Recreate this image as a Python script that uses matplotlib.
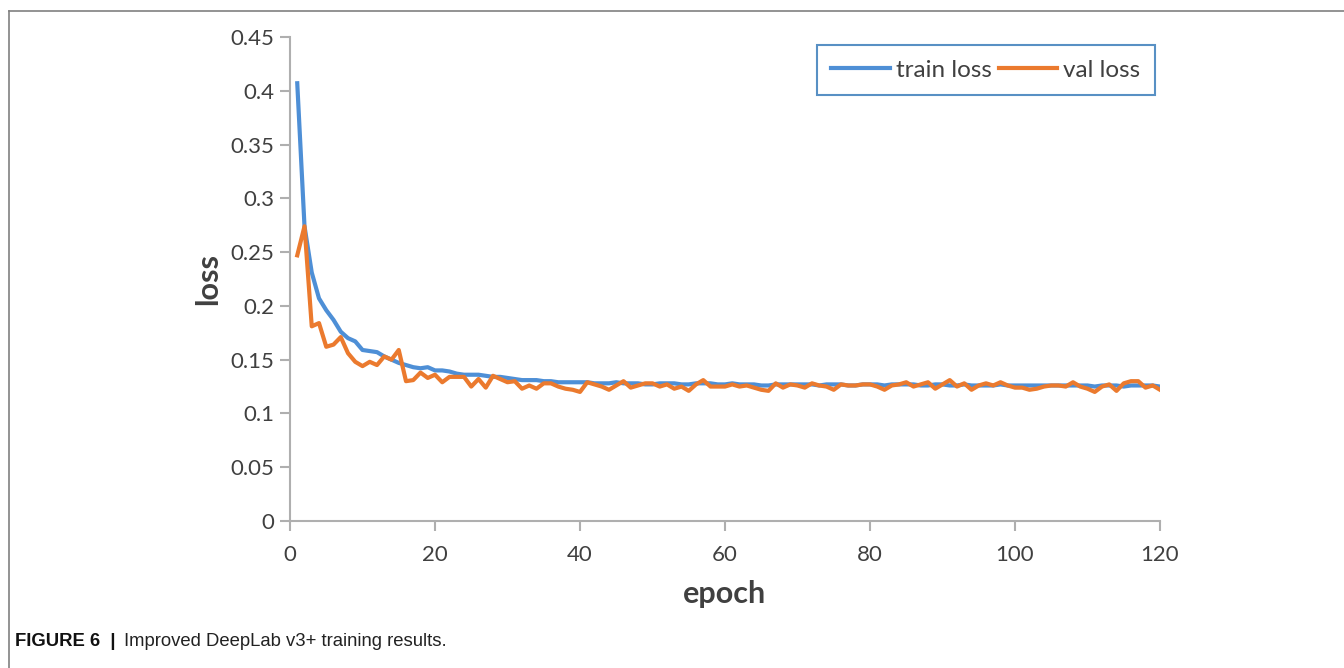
import numpy as np
import matplotlib
matplotlib.use('Agg')
import matplotlib.pyplot as plt
from matplotlib.lines import Line2D

matplotlib.rcParams['font.family'] = ['Lato', 'DejaVu Sans']

# data
train_loss = [
    0.407, 0.274, 0.231, 0.207, 0.196, 0.187, 0.176, 0.170, 0.167, 0.159,
    0.158, 0.157, 0.153, 0.150, 0.147, 0.145, 0.143, 0.142, 0.143, 0.140,
    0.140, 0.139, 0.137, 0.136, 0.136, 0.136, 0.135, 0.134, 0.134, 0.133,
    0.132, 0.131, 0.131, 0.131, 0.130, 0.130, 0.129, 0.129, 0.129, 0.129,
    0.129, 0.128, 0.128, 0.128, 0.129, 0.128, 0.128, 0.128, 0.127, 0.127,
    0.128, 0.128, 0.128, 0.127, 0.127, 0.128, 0.128, 0.128, 0.127, 0.127,
    0.128, 0.127, 0.127, 0.127, 0.126, 0.126, 0.127, 0.127, 0.127, 0.127,
    0.127, 0.127, 0.126, 0.127, 0.127, 0.127, 0.126, 0.126, 0.127, 0.127,
    0.127, 0.126, 0.127, 0.127, 0.127, 0.127, 0.126, 0.126, 0.127, 0.127,
    0.126, 0.126, 0.127, 0.126, 0.126, 0.126, 0.126, 0.127, 0.126, 0.126,
    0.126, 0.126, 0.126, 0.126, 0.126, 0.126, 0.126, 0.126, 0.126, 0.126,
    0.125, 0.126, 0.126, 0.126, 0.125, 0.126, 0.126, 0.126, 0.126, 0.125,
]
val_loss = [
    0.247, 0.274, 0.181, 0.184, 0.162, 0.164, 0.171, 0.156, 0.148, 0.144,
    0.148, 0.145, 0.153, 0.150, 0.159, 0.130, 0.131, 0.138, 0.133, 0.136,
    0.129, 0.134, 0.134, 0.134, 0.125, 0.132, 0.124, 0.135, 0.132, 0.129,
    0.130, 0.123, 0.126, 0.123, 0.128, 0.128, 0.125, 0.123, 0.122, 0.120,
    0.129, 0.127, 0.125, 0.122, 0.126, 0.130, 0.124, 0.126, 0.128, 0.128,
    0.125, 0.127, 0.123, 0.125, 0.121, 0.127, 0.131, 0.125, 0.125, 0.125,
    0.127, 0.125, 0.126, 0.124, 0.122, 0.121, 0.128, 0.124, 0.127, 0.126,
    0.124, 0.128, 0.126, 0.125, 0.122, 0.127, 0.126, 0.126, 0.127, 0.127,
    0.125, 0.122, 0.126, 0.127, 0.129, 0.125, 0.127, 0.129, 0.123, 0.127,
    0.131, 0.125, 0.128, 0.122, 0.126, 0.128, 0.126, 0.129, 0.126, 0.124,
    0.124, 0.122, 0.123, 0.125, 0.126, 0.126, 0.125, 0.129, 0.125, 0.123,
    0.120, 0.125, 0.127, 0.121, 0.128, 0.130, 0.130, 0.124, 0.126, 0.122,
]
epochs = np.arange(1, len(train_loss) + 1)

fig = plt.figure(figsize=(13.44, 6.68), dpi=100)
ax = fig.add_axes([290/1344, 1 - 521/668, 870/1344, 484/668])

ax.plot(epochs, train_loss, color='#4E8FD6', lw=3, label='train loss', zorder=2)
ax.plot(epochs, val_loss, color='#EB7A2E', lw=3, label='val loss', zorder=3)

ax.set_xlim(0, 120)
ax.set_ylim(0, 0.45)
ax.set_xticks(np.arange(0, 121, 20))
ax.set_yticks(np.arange(0, 0.451, 0.05))
ax.set_yticklabels(['0', '0.05', '0.1', '0.15', '0.2', '0.25', '0.3', '0.35', '0.4', '0.45'])

for s in ['top', 'right']:
    ax.spines[s].set_visible(False)
for s in ['left', 'bottom']:
    ax.spines[s].set_color('#AFAFAF')
    ax.spines[s].set_linewidth(1.5)
ax.tick_params(axis='both', colors='#AFAFAF', labelcolor='#404040', labelsize=16,
               length=7, width=1.5)
ax.tick_params(axis='x', pad=10)
ax.tick_params(axis='y', pad=4)

ax.set_xlabel('epoch', fontsize=22, fontweight='bold', color='#404040', labelpad=11)
ax.set_ylabel('loss', fontsize=22, fontweight='bold', color='#404040', labelpad=6)

leg = ax.legend(loc='upper right', ncol=2, fontsize=17.5, frameon=True, fancybox=False,
                handlelength=2.4, handletextpad=0.25, columnspacing=0.3,
                borderpad=0.6, borderaxespad=0, bbox_to_anchor=(865/870, 476/484))
leg.get_frame().set_edgecolor('#2E75B6')
leg.get_frame().set_linewidth(1.5)
for t in leg.get_texts():
    t.set_color('#404040')

# figure border lines
fig.add_artist(Line2D([9/1344, 9/1344], [0, 1 - 11/668], transform=fig.transFigure,
                      color='#808080', lw=1.2))
fig.add_artist(Line2D([9/1344, 1], [1 - 11/668, 1 - 11/668], transform=fig.transFigure,
                      color='#808080', lw=1.2))

# caption
t1 = fig.text(15/1344, 1 - 642/668, 'FIGURE 6  |', fontsize=13.3, fontweight='bold',
              family='Liberation Sans', va='center', ha='left', color='#111111')
fig.canvas.draw()
bb = t1.get_window_extent()
fig.text((bb.x1 + 8)/1344, 1 - 642/668, 'Improved DeepLab v3+ training results.',
         fontsize=13.3, family='Liberation Sans', va='center', ha='left', color='#222222')

fig.savefig('out.png', dpi=100)
